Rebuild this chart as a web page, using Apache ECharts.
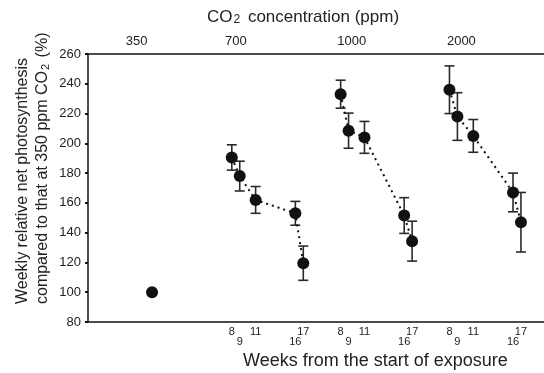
<!DOCTYPE html>
<html><head><meta charset="utf-8">
<script src="https://cdn.jsdelivr.net/npm/echarts@6/dist/echarts.min.js"></script>
<style>html,body{margin:0;padding:0;background:#fff}#c{width:544px;height:373px}</style>
</head><body><div id="c"></div>
<script>
// ---- data ----
const co2Levels = ['350', '700', '1000', '2000'];
const weeks = [8, 9, 11, 16, 17];
const control350 = 100;
const ppm700 = [190.5, 178, 162, 153, 119.5];
const ppm700Err = [8.5, 10, 9, 8, 11.5];
const ppm1000 = [233, 208.5, 204, 151.5, 134.3];
const ppm1000Err = [9.4, 11.8, 10.7, 12, 13.4];
const ppm2000 = [236, 218, 205, 167, 147];
const ppm2000Err = [16, 16, 11, 13, 20];
const yTicks = [80, 100, 120, 140, 160, 180, 200, 220, 240, 260];
const lowerRowWeeks = [9, 16];

// ---- layout (x positions along a week-scaled axis) ----
const xMax = 57.4;
const controlX = 8.06;
const groupStart = [10.1, 23.8, 37.5];
const topLabelX = [6.13, 18.6, 33.2, 47.0];

const groups = [
  { vals: ppm700, err: ppm700Err, start: groupStart[0] },
  { vals: ppm1000, err: ppm1000Err, start: groupStart[1] },
  { vals: ppm2000, err: ppm2000Err, start: groupStart[2] }
];

const rowUpper = [], rowLower = [];
const bottomMap = {};
groups.forEach(g => weeks.forEach(w => {
  const v = +(g.start + w).toFixed(2);
  (lowerRowWeeks.includes(w) ? rowLower : rowUpper).push(v);
  bottomMap[v.toFixed(2)] = w;
}));
const topMap = {};
topLabelX.forEach((v, i) => topMap[v.toFixed(2)] = co2Levels[i]);

const FONT = 'Liberation Sans, Arial, sans-serif';
const series = [];
groups.forEach(g => {
  series.push({
    type: 'custom',
    xAxisIndex: 0, yAxisIndex: 0,
    z: 2,
    data: weeks.map((w, i) => [g.start + w, g.vals[i] - g.err[i], g.vals[i] + g.err[i]]),
    renderItem: function (params, api) {
      const lo = api.coord([api.value(0), api.value(1)]);
      const hi = api.coord([api.value(0), api.value(2)]);
      const hw = 5;
      const st = { stroke: '#2a2a2a', lineWidth: 1.6 };
      return {
        type: 'group',
        children: [
          { type: 'line', shape: { x1: lo[0], y1: lo[1], x2: hi[0], y2: hi[1] }, style: st },
          { type: 'line', shape: { x1: lo[0] - hw, y1: lo[1], x2: lo[0] + hw, y2: lo[1] }, style: st },
          { type: 'line', shape: { x1: hi[0] - hw, y1: hi[1], x2: hi[0] + hw, y2: hi[1] }, style: st }
        ]
      };
    }
  });
  series.push({
    type: 'line',
    z: 3,
    xAxisIndex: 0, yAxisIndex: 0,
    data: weeks.map((w, i) => [g.start + w, g.vals[i]]),
    symbol: 'circle',
    symbolSize: 12,
    itemStyle: { color: '#111', opacity: 1 },
    lineStyle: { color: '#111', width: 2, type: [2, 4] },
    animation: false
  });
});
series.push({
  type: 'scatter', z: 3,
  xAxisIndex: 0, yAxisIndex: 0,
  data: [[controlX, control350]],
  symbolSize: 12,
  itemStyle: { color: '#111', opacity: 1 }
});

function weekAxis(values, margin, showLine) {
  return {
    type: 'value', position: 'bottom', min: 0, max: xMax,
    splitLine: { show: false },
    axisLine: { show: showLine, lineStyle: { color: '#111', width: 1.5 } },
    axisTick: { show: false },
    axisLabel: {
      customValues: values,
      hideOverlap: false,
      margin: margin,
      fontSize: 11, color: '#222', fontFamily: FONT,
      formatter: v => {
        const w = bottomMap[(+v).toFixed(2)];
        return w === undefined ? '' : String(w);
      }
    }
  };
}

const chart = echarts.init(document.getElementById('c'), null, { renderer: 'canvas' });
chart.setOption({
  animation: false,
  backgroundColor: '#fff',
  grid: { left: 88, right: 0, top: 54, bottom: 51, containLabel: false },
  xAxis: [
    weekAxis(rowUpper, 4, true),
    {
      type: 'value', position: 'top', min: 0, max: xMax,
      splitLine: { show: false },
      axisLine: { show: true, lineStyle: { color: '#111', width: 1.5 } },
      axisTick: { show: false },
      axisLabel: {
        customValues: topLabelX,
        hideOverlap: false,
        margin: 6,
        fontSize: 13, color: '#222', fontFamily: FONT,
        formatter: v => topMap[(+v).toFixed(2)] || ''
      }
    },
    Object.assign(weekAxis(rowLower, 14, false), { position: 'bottom', offset: 0 })
  ],
  yAxis: {
    type: 'value', min: yTicks[0], max: yTicks[yTicks.length - 1], interval: 20,
    splitLine: { show: false },
    axisLine: { show: true, lineStyle: { color: '#111', width: 1.5 } },
    axisTick: { show: true, length: 3, lineStyle: { color: '#111', width: 2 } },
    axisLabel: { fontSize: 13, color: '#222', margin: 7, fontFamily: FONT }
  },
  graphic: [
    {
      type: 'text', left: 207, top: 9,
      style: {
        text: '{a|CO}{s|2}{a| concentration (ppm)}',
        rich: {
          a: { fontSize: 17, fill: '#222', fontFamily: FONT, lineHeight: 20, verticalAlign: 'bottom' },
          s: { fontSize: 12, fill: '#222', fontFamily: FONT, lineHeight: 14, verticalAlign: 'bottom', padding: [0, 3, 0, 1] }
        }
      }
    },
    {
      type: 'text', left: 243, top: 352,
      style: { text: 'Weeks from the start of exposure', fontSize: 18, fill: '#222', fontFamily: FONT }
    },
    {
      type: 'text', x: 11, y: 304, rotation: Math.PI / 2,
      style: {
        text: '{a|Weekly relative net photosynthesis}\n{a|compared to that at 350 ppm CO}{s|2}{a| (%)}',
        rich: {
          a: { fontSize: 16, fill: '#222', fontFamily: FONT, lineHeight: 20, verticalAlign: 'bottom' },
          s: { fontSize: 11, fill: '#222', fontFamily: FONT, lineHeight: 14, verticalAlign: 'bottom', padding: [0, 2, 0, 1] }
        },
        textAlign: 'left', textVerticalAlign: 'top'
      }
    }
  ],
  series: series
});
</script>
</body></html>
